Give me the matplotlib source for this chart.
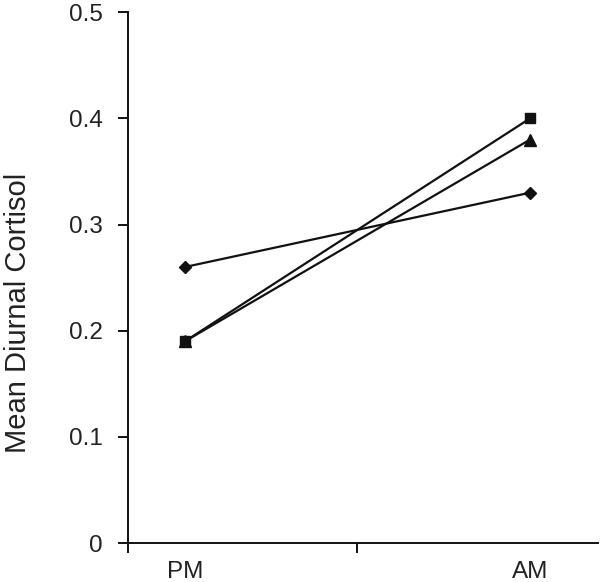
import matplotlib
matplotlib.use("Agg")
from matplotlib import pyplot as plt

plt.rcParams['font.family'] = ['Liberation Sans', 'DejaVu Sans']

times = ["PM", "AM"]
series_square = [0.19, 0.40]
series_triangle = [0.19, 0.38]
series_diamond = [0.26, 0.33]
y_ticks = [0, 0.1, 0.2, 0.3, 0.4, 0.5]
y_labels = ["0", "0.1", "0.2", "0.3", "0.4", "0.5"]

fig = plt.figure(figsize=(6.01, 5.82), dpi=100)
ax = fig.add_axes([0.213, 0.067, 0.782, 0.912])

x = [0, 1]
ax.plot(x, series_diamond, color="#111111", lw=1.6, marker="D", ms=6)
ax.plot(x, series_triangle, color="#111111", lw=1.6, marker="^", ms=8)
ax.plot(x, series_square, color="#111111", lw=1.6, marker="s", ms=7.5)

ax.set_xlim(-0.165, 1.197)
ax.set_ylim(0, 0.5)
ax.set_yticks(y_ticks)
ax.set_yticklabels(y_labels, fontsize=17.5, color="#222222")
ax.set_xticks([-0.165, 0.5])
ax.set_xticklabels(["", ""])
for xi, lab in zip(x, times):
    ax.text(xi, -0.033, lab, ha="center", va="top", fontsize=17.5,
            color="#222222", transform=ax.get_xaxis_transform())

fig.text(18 / 601, 0.462, "Mean Diurnal Cortisol", rotation=90,
         ha="center", va="center", fontsize=21, color="#222222")
for side in ["top", "right"]:
    ax.spines[side].set_visible(False)
for side in ["left", "bottom"]:
    ax.spines[side].set_linewidth(1.4)
    ax.spines[side].set_color("#111111")
ax.tick_params(axis="both", direction="out", length=7, width=1.4, color="#111111")
ax.tick_params(axis="y", pad=11)

fig.savefig("out.png", dpi=100)
